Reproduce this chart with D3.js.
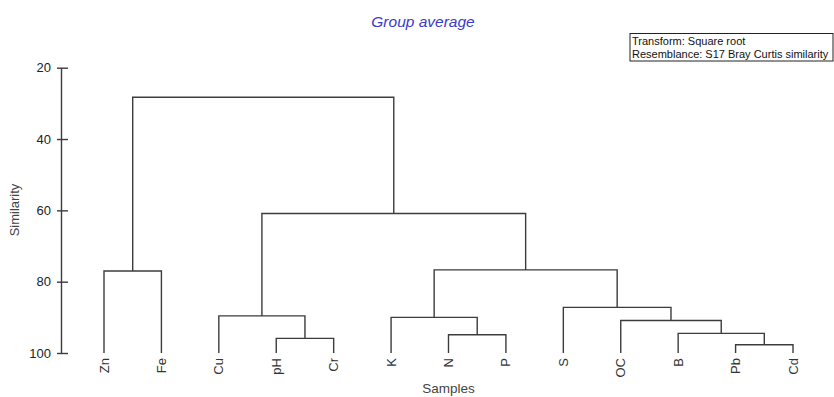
<!DOCTYPE html>
<html>
<head>
<meta charset="utf-8">
<script src="https://cdn.jsdelivr.net/npm/d3@7"></script>
<style>
  html, body { margin: 0; padding: 0; background: #fff; }
  svg { display: block; font-family: "Liberation Sans", Arial, sans-serif; }
</style>
</head>
<body>
<svg id="chart" width="834" height="397"></svg>
<script>
// ---- data ----
const leaves = ["Zn","Fe","Cu","pH","Cr","K","N","P","S","OC","B","Pb","Cd"];
const mergeIds   = ["m0","m1","m2","m3","m4","m5","m6","m7","m8","m9","m10","m11"];
const mergeLeft  = ["pH","Pb","N","B","Cu","K","OC","S","Zn","m5","m4","m8"];
const mergeRight = ["Cr","Cd","P","m1","m0","m2","m3","m6","Fe","m7","m9","m10"];
const mergeSim   = [95.9, 97.7, 94.9, 94.5, 89.6, 90.0, 90.9, 87.2, 77.0, 76.7, 60.9, 28.3];
const yTicks = [20, 40, 60, 80, 100];

const title = "Group average";
const infoLines = ["Transform: Square root", "Resemblance: S17 Bray Curtis similarity"];

// ---- layout ----
const svg = d3.select("#chart");
const x = d3.scalePoint().domain(leaves).range([104, 793]);
const y = d3.scaleLinear().domain([20, 100]).range([67.7, 353]);
const lineColor = "#3c3c3c";

// node positions
const pos = {};
leaves.forEach(l => pos[l] = { x: x(l), s: 100 });
mergeIds.forEach((id, i) => {
  const a = pos[mergeLeft[i]], b = pos[mergeRight[i]];
  pos[id] = { x: (a.x + b.x) / 2, s: mergeSim[i] };
});

// dendrogram links
svg.append("g").selectAll("path")
  .data(mergeIds.map((id, i) => ({ a: pos[mergeLeft[i]], b: pos[mergeRight[i]], s: mergeSim[i] })))
  .join("path")
  .attr("fill", "none")
  .attr("stroke", lineColor)
  .attr("stroke-width", 1.4)
  .attr("d", d => `M${d.a.x},${y(d.a.s)}V${y(d.s)}H${d.b.x}V${y(d.b.s)}`);

// y axis
const axisG = svg.append("g")
  .attr("transform", "translate(61,0)")
  .call(d3.axisLeft(y).tickValues(yTicks).tickSizeInner(4).tickSizeOuter(0).tickPadding(6));
axisG.select(".domain").attr("stroke", lineColor).attr("stroke-width", 1.4);
axisG.selectAll(".tick line").attr("stroke", lineColor).attr("stroke-width", 1.4).attr("x1", 7);
axisG.selectAll(".tick text")
  .attr("font-size", 13)
  .attr("fill", "#222")
  .attr("font-family", "Liberation Sans, Arial, sans-serif");

// y axis title
svg.append("text")
  .attr("transform", "translate(19,210) rotate(-90)")
  .attr("text-anchor", "middle")
  .attr("font-size", 13)
  .attr("fill", "#444")
  .text("Similarity");

// leaf labels
svg.append("g").selectAll("text")
  .data(leaves)
  .join("text")
  .attr("transform", d => `translate(${x(d)},358) rotate(-90)`)
  .attr("text-anchor", "end")
  .attr("dy", "0.35em")
  .attr("font-size", 13)
  .attr("fill", "#333")
  .text(d => d);

// x axis title
svg.append("text")
  .attr("x", (x.range()[0] + x.range()[1]) / 2)
  .attr("y", 393)
  .attr("text-anchor", "middle")
  .attr("font-size", 13.5)
  .attr("fill", "#444")
  .text("Samples");

// title
svg.append("text")
  .attr("x", 423)
  .attr("y", 27)
  .attr("text-anchor", "middle")
  .attr("font-size", 15.5)
  .attr("font-style", "italic")
  .attr("fill", "#3a3acc")
  .text(title);

// info box
const box = { x: 630, y: 33.5, w: 203, h: 27.5 };
svg.append("rect")
  .attr("x", box.x).attr("y", box.y).attr("width", box.w).attr("height", box.h)
  .attr("fill", "#fff").attr("stroke", "#222").attr("stroke-width", 1);
svg.append("g")
  .selectAll("text").data(infoLines).join("text")
  .attr("x", box.x + 2)
  .attr("y", (d, i) => box.y + 11 + i * 13)
  .attr("font-size", 11)
  .attr("fill", "#111")
  .text(d => d);
</script>
</body>
</html>
